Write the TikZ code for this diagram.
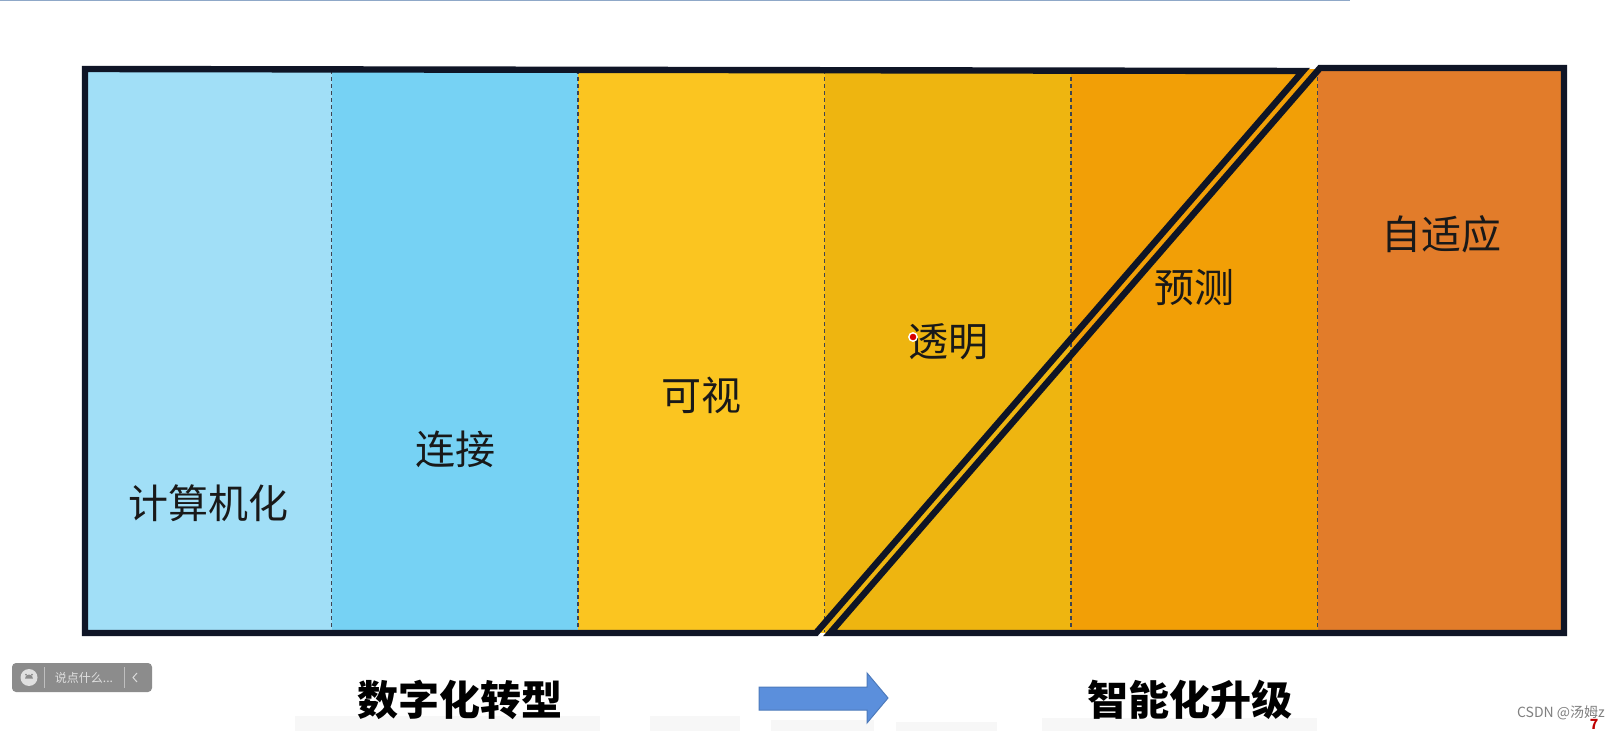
\documentclass[tikz,border=0pt]{standalone}
\usepackage{fontspec}
\newfontfamily\cjk{Noto Sans CJK SC}
\usetikzlibrary{calc}

\definecolor{colA}{HTML}{A1DFF7}
\definecolor{colB}{HTML}{76D2F4}
\definecolor{colC}{HTML}{FBC520}
\definecolor{colD}{HTML}{EEB510}
\definecolor{colE}{HTML}{F29F06}
\definecolor{colF}{HTML}{E27C2A}
\definecolor{navy}{HTML}{0F1526}
\definecolor{arrowblue}{HTML}{5B8FDC}
\definecolor{topline}{HTML}{8FA8C8}

\tikzset{
  frame/.style={navy,line width=3.2pt,line join=miter},
  divider/.style={navy!80,line width=0.7pt,dash pattern=on 2pt off 1.5pt},
  lbl/.style={text=black!90,font=\cjk\fontsize{20}{20}\selectfont},
  title/.style={text=black,font=\cjk\bfseries\fontsize{20.5}{21}\selectfont},
  faint/.style={fill=black!3}
}

\begin{document}
\begin{tikzpicture}[x=0.5pt,y=-0.5pt]

\useasboundingbox (0,0) rectangle (1616,731);
\fill[white] (0,0) rectangle (1616,731);
\draw[topline,line width=1pt] (0,0.5) -- (1350,0.5);

% columns and dividers
\foreach \c [count=\i from 0] in {colA,colB,colC,colD,colE,colF}
  \fill[\c] ({85+246.5*\i},69) rectangle ({85+246.5*(\i+1)},633);
\foreach \i in {1,...,5}
  \draw[divider] ({85+246.5*\i},70) -- ({85+246.5*\i},632);

\coordinate (A) at (85,69);
\coordinate (B) at (1303,71);
\coordinate (C) at (816,633);
\coordinate (D) at (85,633);
\coordinate (E) at (1320,68);
\coordinate (F) at (1564,68);
\coordinate (G) at (1564,633);
\coordinate (H) at (830,633);

\draw[frame] (A)--(B)--(C)--(D)--cycle;
\draw[frame] (E)--(F)--(G)--(H)--cycle;

% stage labels
\node[lbl] (compute) at (208,503) {计算机化};
\node[lbl] (connect) at (455,449) {连接};
\node[lbl] (visible) at (701,395) {可视};
\node[lbl] (transp)  at (948,342) {透明};
\node[lbl] (predict) at (1194,288) {预测};
\node[lbl] (adapt)   at (1441,234) {自适应};

% faint marks under the titles
\fill[faint] (295,716) rectangle (600,731);
\fill[faint] (650,716) rectangle (740,731);
\fill[faint] (771,720) rectangle (874,731);
\fill[faint] (896,722) rectangle (997,731);
\fill[faint] (1042,718) rectangle (1317,731);

\node[title] (digital) at (460,700) {数字化转型};
\node[title] (smart)   at (1190,700) {智能化升级};

\draw[arrowblue!85!black,fill=arrowblue,line width=0.5pt]
  (759,687) -- (867,687) -- (867,673) -- (888,698) -- (867,723) -- (867,710) -- (759,710) -- cycle;

% cursor dot
\filldraw[white] (913,337) circle (4.5);
\filldraw[red!85!black] (913,337) circle (2.8);

% chat widget
\fill[black!45,rounded corners=2pt] (12,663) rectangle (152,692);
\fill[black!12] (29,677.5) circle (8.5);
\fill[black!45] (26,674.5) circle (1) (32,674.5) circle (1);
\fill[black!45] (25,678.5) arc (180:360:4) -- cycle;
\draw[black!25,line width=0.5pt] (44,667) -- (44,688) (124,667) -- (124,688);
\node[text=black!12,font=\cjk\fontsize{6}{6}\selectfont] (say) at (84,677.5) {说点什么...};
\draw[black!15,line width=0.5pt] (137,673) -- (133,677.5) -- (137,682);

% watermark
\node[text=black!50,font=\cjk\fontsize{7}{7}\selectfont] (mark) at (1561,713) {CSDN @汤姆z};
\node[text=red!75!black,font=\cjk\bfseries\fontsize{7}{7}\selectfont,inner sep=0pt,anchor=south] (seven) at (1594,730) {7};

\end{tikzpicture}
\end{document}
